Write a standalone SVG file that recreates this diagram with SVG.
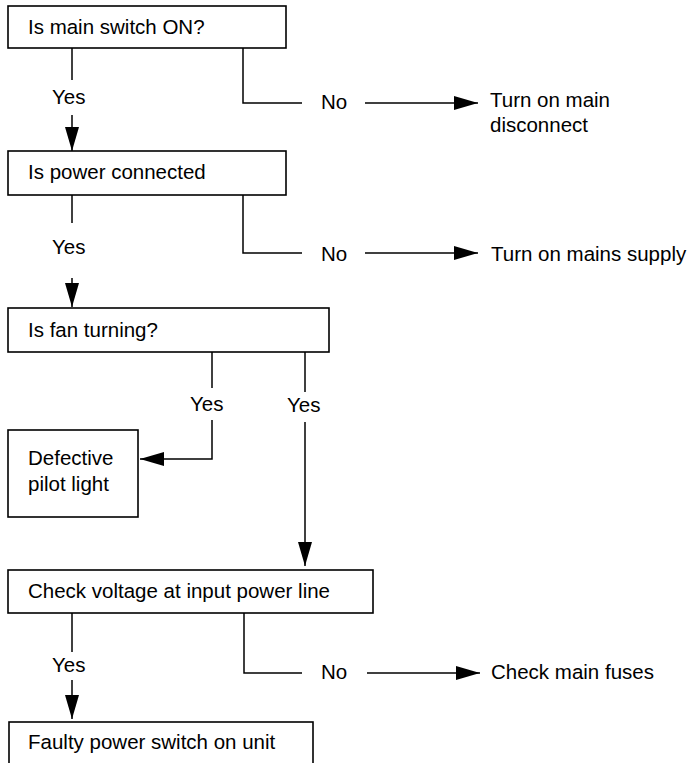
<svg xmlns="http://www.w3.org/2000/svg" width="696" height="763" viewBox="0 0 696 763">
<style>
.box{fill:#fff;stroke:#000;stroke-width:1.6}
.t{font-family:"Liberation Sans",Arial,sans-serif;font-size:20.5px;fill:#000}
.c{fill:none;stroke:#000;stroke-width:1.5}
.a{fill:none;stroke:#000;stroke-width:1.5;marker-end:url(#ah)}
</style>
<defs>
<marker id="ah" markerUnits="userSpaceOnUse" markerWidth="24" markerHeight="14" refX="24" refY="7" orient="auto">
<path d="M0,0 L24,7 L0,14 z" fill="#000"/>
</marker>
</defs>
<rect width="696" height="763" fill="#fff"/>
<g id="n1"><rect class="box" x="8" y="6" width="278" height="42"/><text class="t" x="28" y="34">Is main switch ON?</text></g>
<g id="n2"><rect class="box" x="8" y="151" width="278" height="44"/><text class="t" x="28" y="179">Is power connected</text></g>
<g id="n3"><rect class="box" x="8" y="308" width="321" height="44"/><text class="t" x="28" y="337">Is fan turning?</text></g>
<g id="n4"><rect class="box" x="8" y="430" width="130" height="87"/><text class="t" x="28" y="465">Defective</text><text class="t" x="28" y="491">pilot light</text></g>
<g id="n5"><rect class="box" x="8" y="570" width="365" height="43"/><text class="t" x="28" y="598">Check voltage at input power line</text></g>
<g id="n6"><rect class="box" x="9" y="722" width="304" height="50"/><text class="t" x="28" y="749">Faulty power switch on unit</text></g>
<g id="o1"><text class="t" x="490" y="107">Turn on main</text><text class="t" x="490" y="132">disconnect</text></g>
<g id="o2"><text class="t" x="491" y="261">Turn on mains supply</text></g>
<g id="o3"><text class="t" x="491" y="679">Check main fuses</text></g>
<g id="connectors">
<path class="c" d="M72,48 V80"/>
<text class="t" x="52" y="104">Yes</text>
<path class="a" d="M72,115 V151"/>
<path class="c" d="M243,48 V103 H302"/>
<text class="t" x="321" y="109">No</text>
<path class="a" d="M365,103 H478"/>
<path class="c" d="M72,195 V223"/>
<text class="t" x="52" y="254">Yes</text>
<path class="a" d="M72,278 V307"/>
<path class="c" d="M243,195 V253 H302"/>
<text class="t" x="321" y="261">No</text>
<path class="a" d="M365,253 H478"/>
<path class="c" d="M212,352 V388"/>
<text class="t" x="190" y="411">Yes</text>
<path class="a" d="M212,420 V459 H140"/>
<path class="c" d="M305,352 V392"/>
<text class="t" x="287" y="412">Yes</text>
<path class="a" d="M305,422 V566"/>
<path class="c" d="M72,613 V652"/>
<text class="t" x="52" y="672">Yes</text>
<path class="a" d="M72,680 V719"/>
<path class="c" d="M244,613 V673 H302"/>
<text class="t" x="321" y="679">No</text>
<path class="a" d="M367,673 H480"/>
</g>
</svg>
